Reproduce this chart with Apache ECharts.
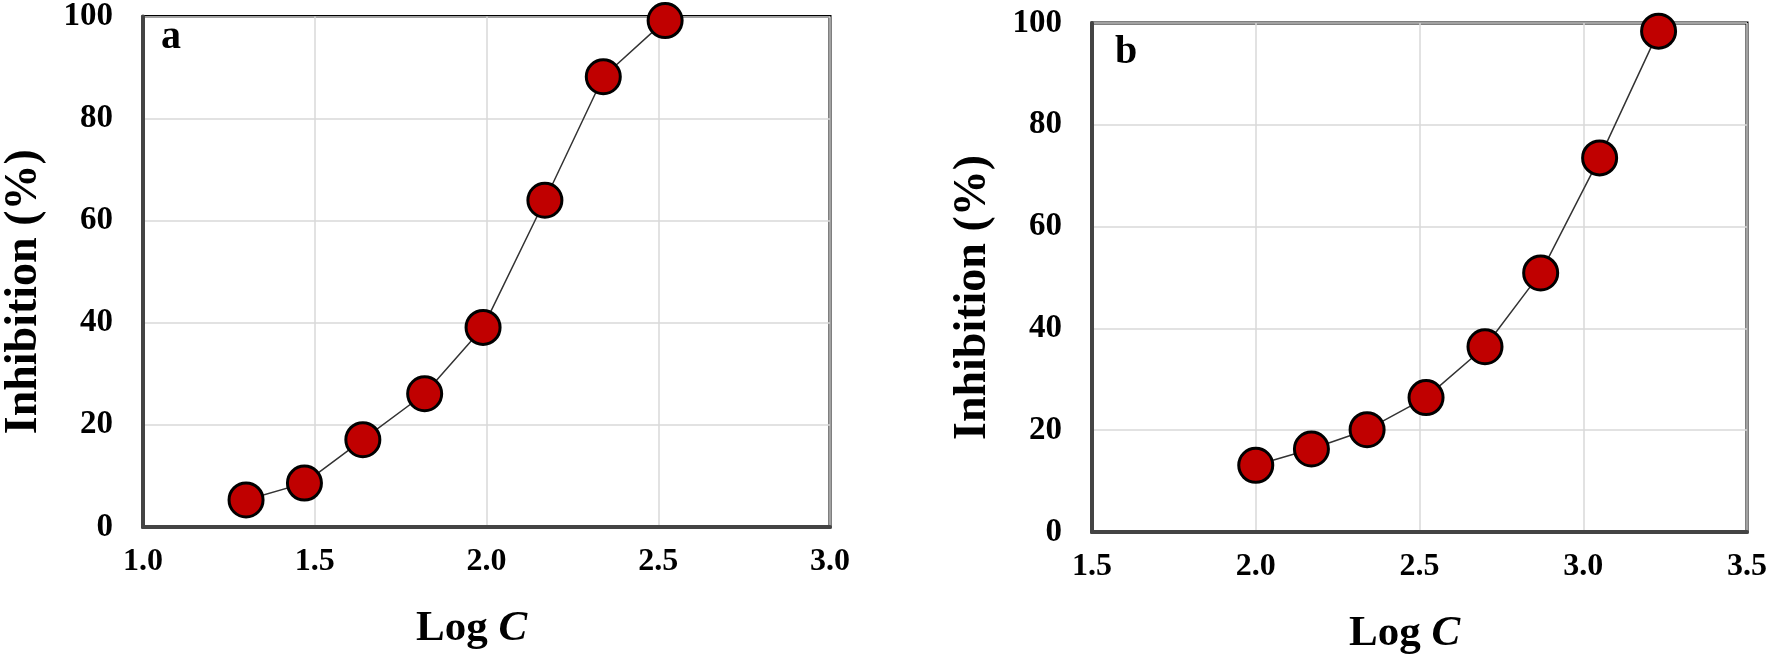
<!DOCTYPE html>
<html>
<head>
<meta charset="utf-8">
<script src="https://cdn.jsdelivr.net/npm/echarts@6/dist/echarts.min.js"></script>
<style>
html,body{margin:0;padding:0;background:#fff;}
#chart{width:1770px;height:660px;}
</style>
</head>
<body>
<div id="chart"></div>
<script>
// Panel a data
const logC_a = [1.30, 1.47, 1.64, 1.82, 1.99, 2.17, 2.34, 2.52];
const inhib_a = [5.3, 8.6, 17.1, 26.1, 39.1, 64.0, 88.2, 99.2];
// Panel b data
const logC_b = [2.00, 2.17, 2.34, 2.52, 2.70, 2.87, 3.05, 3.23];
const inhib_b = [13.1, 16.3, 20.1, 26.4, 36.4, 50.9, 73.5, 98.4];
// Axis ticks
const xTicks_a = [1.0, 1.5, 2.0, 2.5, 3.0];
const xTicks_b = [1.5, 2.0, 2.5, 3.0, 3.5];
const yTicks = [0, 20, 40, 60, 80, 100];
const panelLabels = ['a', 'b'];
const xTitle = 'Log ';
const xTitleItalic = 'C';
const yTitle = 'Inhibition (%)';

const FONT = "'Liberation Serif', 'Times New Roman', serif";

function pair(xs, ys) { return xs.map((x, i) => [x, ys[i]]); }

function xAxisFor(ticks, gridIndex) {
  return {
    type: 'value', gridIndex: gridIndex,
    min: ticks[0], max: ticks[ticks.length - 1],
    interval: ticks[1] - ticks[0],
    axisLine: { show: true, onZero: false, lineStyle: { color: '#444', width: 4 } },
    axisTick: { show: false },
    splitLine: { show: true, lineStyle: { color: '#d9d9d9', width: 1.5 } },
    axisLabel: { color: '#000', fontFamily: FONT, fontWeight: 'bold', fontSize: 32, margin: 19,
      formatter: v => v.toFixed(1) },
    name: '{n|' + xTitle + '}{i|' + xTitleItalic + '}',
    nameLocation: 'middle', nameGap: 80,
    nameTextStyle: {
      padding: [0, 30, 0, 0],
      rich: {
        n: { fontFamily: FONT, fontWeight: 'bold', fontSize: 43, color: '#000' },
        i: { fontFamily: FONT, fontWeight: 'bold', fontStyle: 'italic', fontSize: 43, color: '#000' }
      }
    }
  };
}
function yAxisFor(gridIndex) {
  return {
    type: 'value', gridIndex: gridIndex,
    min: yTicks[0], max: yTicks[yTicks.length - 1], interval: yTicks[1] - yTicks[0],
    axisLine: { show: true, lineStyle: { color: '#444', width: 4 } },
    axisTick: { show: false },
    splitLine: { show: true, lineStyle: { color: '#d9d9d9', width: 1.5 } },
    axisLabel: { color: '#000', fontFamily: FONT, fontWeight: 'bold', fontSize: 33, margin: 30 },
    name: yTitle, nameLocation: 'middle', nameGap: 96, nameRotate: 90,
    nameTextStyle: { fontFamily: FONT, fontWeight: 'bold', fontSize: 46, color: '#000', padding: [0, 40, 0, 0] }
  };
}
function seriesFor(xs, ys, idx) {
  return {
    type: 'line', xAxisIndex: idx, yAxisIndex: idx,
    data: pair(xs, ys),
    symbol: 'circle', symbolSize: 34,
    lineStyle: { color: '#333', width: 1.5 },
    itemStyle: { color: '#c00000', borderColor: '#000', borderWidth: 3 },
    emphasis: { disabled: true },
    z: 5
  };
}

const chart = echarts.init(document.getElementById('chart'), null, { renderer: 'canvas' });
chart.setOption({
  animation: false,
  backgroundColor: '#fff',
  title: [
    { text: panelLabels[0], left: 161, top: 18, padding: 0,
      textStyle: { fontFamily: FONT, fontWeight: 'bold', fontSize: 40, color: '#000' } },
    { text: panelLabels[1], left: 1115, top: 33, padding: 0,
      textStyle: { fontFamily: FONT, fontWeight: 'bold', fontSize: 40, color: '#000' } }
  ],
  grid: [
    { left: 142, top: 14, width: 688, height: 513, show: true, borderColor: '#000', borderWidth: 3, backgroundColor: 'transparent' },
    { left: 1092, top: 23, width: 660, height: 514, show: true, borderColor: '#000', borderWidth: 3, backgroundColor: 'transparent' }
  ],
  xAxis: [xAxisFor(xTicks_a, 0), xAxisFor(xTicks_b, 1)],
  yAxis: [yAxisFor(0), yAxisFor(1)],
  series: [seriesFor(logC_a, inhib_a, 0), seriesFor(logC_b, inhib_b, 1)]
});
</script>
</body>
</html>
